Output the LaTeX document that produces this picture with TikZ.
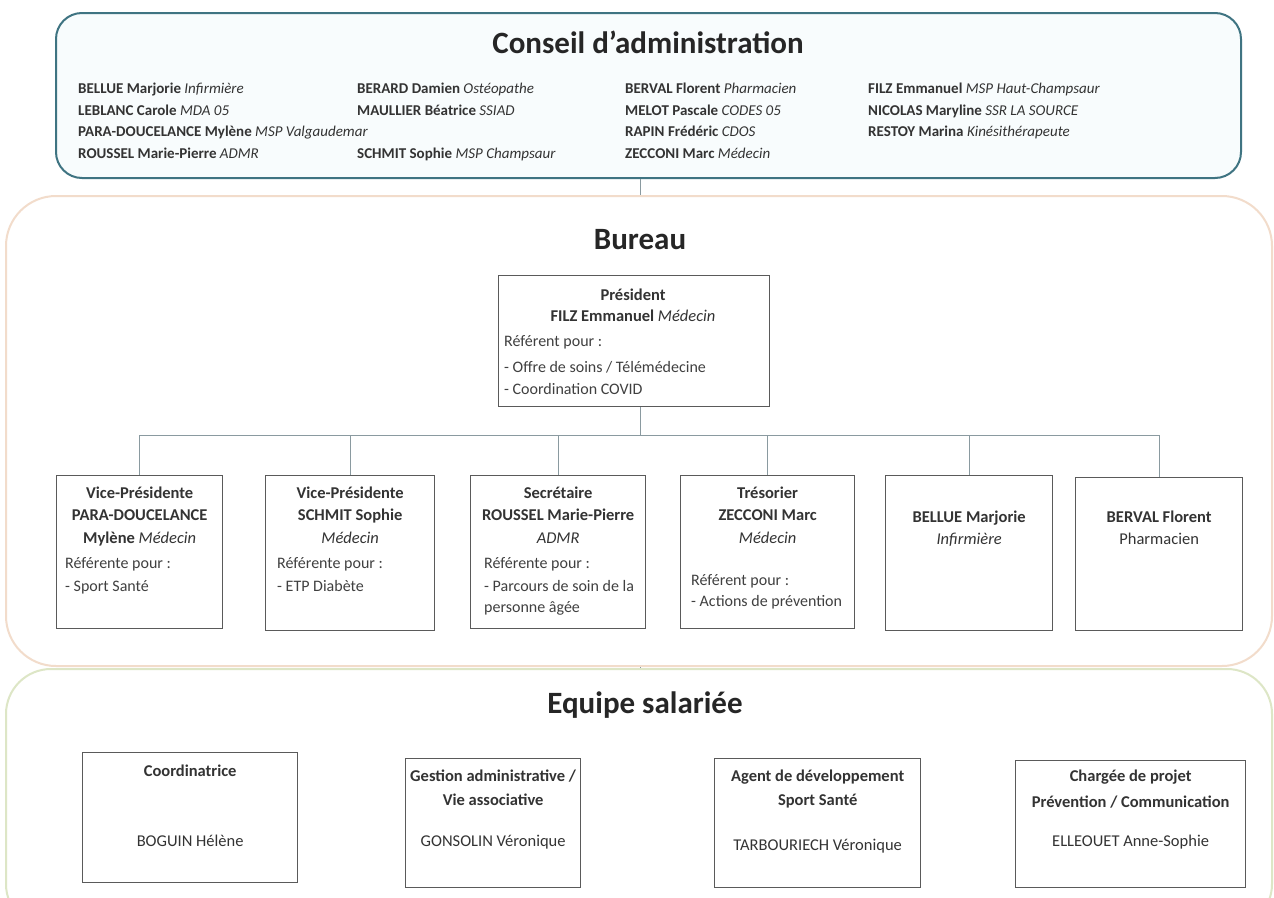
\documentclass[tikz,border=0pt]{standalone}
\usepackage{fontspec}
\setmainfont{Carlito}
\definecolor{caborder}{HTML}{3F7482}
\definecolor{cafill}{HTML}{F8FCFD}
\definecolor{buborder}{HTML}{F2DCCB}
\definecolor{eqborder}{HTML}{DDE6C6}
\definecolor{boxline}{HTML}{5A5A5A}
\definecolor{linkc}{HTML}{8A9AA0}
\tikzset{
  panel/.style={draw, rounded corners=#1, anchor=north west, inner sep=0pt},
  titre/.style={font=\fontsize{31}{34}\selectfont\bfseries, text=black!85},
  member/.style={anchor=base west, font=\fontsize{15}{17}\selectfont, text=black!80, inner sep=0pt, yshift=-5pt},
  rolebox/.style={draw=boxline, line width=1.3pt, fill=white, anchor=north west, inner sep=0pt},
  btxt/.style={anchor=base, font=\fontsize{16.5}{18}\selectfont, text=black!80, inner sep=0pt, yshift=-5.5pt},
  ltxt/.style={anchor=base west, font=\fontsize{16}{18}\selectfont, text=black!75, inner sep=0pt, yshift=-5.5pt},
  link/.style={draw=linkc, line width=0.9pt}
}
\begin{document}
\begin{tikzpicture}[x=1pt,y=-1pt]
\useasboundingbox (0,0) rectangle (1274,897);
\fill[white] (0,0) rectangle (1274,897);
% panels
\node[panel=26pt, draw=caborder, line width=2pt, fill=cafill, minimum width=1185pt, minimum height=165pt] (ca) at (55,12) {};
\node[panel=50pt, draw=buborder, line width=2pt, fill=white, minimum width=1266pt, minimum height=470pt] (bu) at (5,195) {};
\node[panel=45pt, draw=eqborder, line width=2pt, fill=white, minimum width=1266pt, minimum height=260pt] (eq) at (5,668) {};
\node[titre] (tca) at (648,42) {Conseil d’administration};
\node[titre] (tbu) at (640,240) {Bureau};
\node[titre] (teq) at (645,705) {Equipe salariée};
% members
\node[member] (m11) at (78,88) {\textbf{BELLUE Marjorie} \textit{Infirmière}};
\node[member] (m12) at (78,110) {\textbf{LEBLANC Carole} \textit{MDA 05}};
\node[member] (m13) at (78,131) {\textbf{PARA-DOUCELANCE Mylène} \textit{MSP Valgaudemar}};
\node[member] (m14) at (78,153) {\textbf{ROUSSEL Marie-Pierre} \textit{ADMR}};
\node[member] (m21) at (357,88) {\textbf{BERARD Damien} \textit{Ostéopathe}};
\node[member] (m22) at (357,110) {\textbf{MAULLIER Béatrice} \textit{SSIAD}};
\node[member] (m24) at (357,153) {\textbf{SCHMIT Sophie} \textit{MSP Champsaur}};
\node[member] (m31) at (625,88) {\textbf{BERVAL Florent} \textit{Pharmacien}};
\node[member] (m32) at (625,110) {\textbf{MELOT Pascale} \textit{CODES 05}};
\node[member] (m33) at (625,131) {\textbf{RAPIN Frédéric} \textit{CDOS}};
\node[member] (m34) at (625,153) {\textbf{ZECCONI Marc} \textit{Médecin}};
\node[member] (m41) at (868,88) {\textbf{FILZ Emmanuel} \textit{MSP Haut-Champsaur}};
\node[member] (m42) at (868,110) {\textbf{NICOLAS Maryline} \textit{SSR LA SOURCE}};
\node[member] (m43) at (868,131) {\textbf{RESTOY Marina} \textit{Kinésithérapeute}};
% panel links
\draw[link] (ca.south -| tbu) -- (bu.north -| tbu);
\draw[link] (bu.south -| tbu) -- (eq.north -| tbu);
% president
\node[rolebox, minimum width=271pt, minimum height=131pt] (pres) at (498,275) {};
\node[btxt] (p1) at (633,295) {\textbf{Président}};
\node[btxt] (p2) at (633,316) {\textbf{FILZ Emmanuel} \textit{Médecin}};
\node[ltxt] (p3) at (504,341) {Référent pour :};
\node[ltxt] (p4) at (504,367) {- Offre de soins / Télémédecine};
\node[ltxt] (p5) at (504,389) {- Coordination COVID};
% bureau boxes
\node[rolebox, minimum width=166pt, minimum height=153pt] (b1) at (56,475) {};
\node[rolebox, minimum width=169pt, minimum height=155pt] (b2) at (265,475) {};
\node[rolebox, minimum width=175pt, minimum height=153pt] (b3) at (470,475) {};
\node[rolebox, minimum width=174pt, minimum height=153pt] (b4) at (680,475) {};
\node[rolebox, minimum width=167pt, minimum height=155pt] (b5) at (885,475) {};
\node[rolebox, minimum width=167pt, minimum height=153pt] (b6) at (1075,477) {};
\coordinate (bus) at (640,435);
\draw[link] (pres.south -| bus) -- (bus);
\draw[link] (b1.north) |- (bus);
\draw[link] (b6.north) |- (bus);
\foreach \b in {b2,b3,b4,b5} \draw[link] (\b.north) -- (\b.north |- bus);
% box texts
\node[btxt] at (b1.north |- 0,493) {\textbf{Vice-Présidente}};
\node[btxt] at (b1.north |- 0,515) {\textbf{PARA-DOUCELANCE}};
\node[btxt] at (b1.north |- 0,538) {\textbf{Mylène} \textit{Médecin}};
\node[ltxt] at (65,563) {Référente pour :};
\node[ltxt] at (65,586) {- Sport Santé};
\node[btxt] at (b2.north |- 0,493) {\textbf{Vice-Présidente}};
\node[btxt] at (b2.north |- 0,515) {\textbf{SCHMIT Sophie}};
\node[btxt] at (b2.north |- 0,538) {\textit{Médecin}};
\node[ltxt] at (277,563) {Référente pour :};
\node[ltxt] at (277,586) {- ETP Diabète};
\node[btxt] at (b3.north |- 0,493) {\textbf{Secrétaire}};
\node[btxt] at (b3.north |- 0,515) {\textbf{ROUSSEL Marie-Pierre}};
\node[btxt] at (b3.north |- 0,538) {\textit{ADMR}};
\node[ltxt] at (484,563) {Référente pour :};
\node[ltxt] at (484,586) {- Parcours de soin de la};
\node[ltxt] at (484,607) {personne âgée};
\node[btxt] at (b4.north |- 0,493) {\textbf{Trésorier}};
\node[btxt] at (b4.north |- 0,515) {\textbf{ZECCONI Marc}};
\node[btxt] at (b4.north |- 0,538) {\textit{Médecin}};
\node[ltxt] at (691,580) {Référent pour :};
\node[ltxt] at (691,601) {- Actions de prévention};
\node[btxt] at (b5.north |- 0,517) {\textbf{BELLUE Marjorie}};
\node[btxt] at (b5.north |- 0,539) {\textit{Infirmière}};
\node[btxt] at (b6.north |- 0,517) {\textbf{BERVAL Florent}};
\node[btxt] at (b6.north |- 0,539) {Pharmacien};
% equipe boxes
\node[rolebox, minimum width=215pt, minimum height=130pt] (e1) at (82,752) {};
\node[rolebox, minimum width=175pt, minimum height=129pt] (e2) at (405,758) {};
\node[rolebox, minimum width=206pt, minimum height=129pt] (e3) at (714,758) {};
\node[rolebox, minimum width=230pt, minimum height=127pt] (e4) at (1015,760) {};
\node[btxt] at (e1.north |- 0,771) {\textbf{Coordinatrice}};
\node[btxt] at (e1.north |- 0,841) {BOGUIN Hélène};
\node[btxt] at (e2.north |- 0,776) {\textbf{Gestion administrative /}};
\node[btxt] at (e2.north |- 0,800) {\textbf{Vie associative}};
\node[btxt] at (e2.north |- 0,841) {GONSOLIN Véronique};
\node[btxt] at (e3.north |- 0,776) {\textbf{Agent de développement}};
\node[btxt] at (e3.north |- 0,800) {\textbf{Sport Santé}};
\node[btxt] at (e3.north |- 0,845) {TARBOURIECH Véronique};
\node[btxt] at (e4.north |- 0,776) {\textbf{Chargée de projet}};
\node[btxt] at (e4.north |- 0,802) {\textbf{Prévention / Communication}};
\node[btxt] at (e4.north |- 0,841) {ELLEOUET Anne-Sophie};
\end{tikzpicture}
\end{document}
